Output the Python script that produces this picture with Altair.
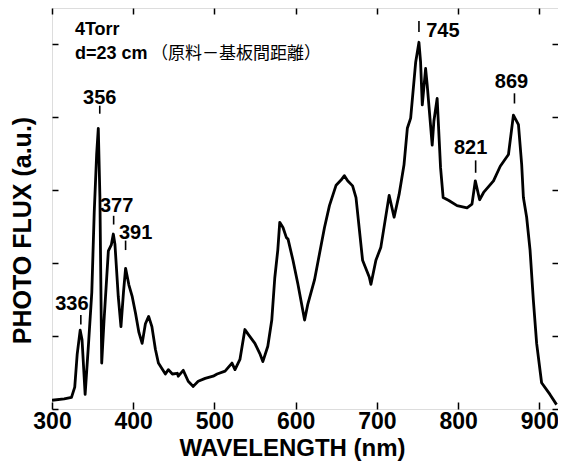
import altair as alt
import pandas as pd

# spectrum (wavelength nm, photo flux a.u.)
wavelength = [300, 315, 324, 328, 331, 334.7, 337, 340.8, 345, 349, 352, 355, 357,
              359, 361.2, 364, 369.4, 373, 375.5, 377.5, 381.6, 384.9, 388, 390.6,
              394.7, 398.8, 402.9, 407, 411, 415, 419, 423, 427.3, 431, 439.6, 443.3,
              448.2, 454.3, 455.5, 461.6, 467.7, 473.9, 480, 488.6, 498.4, 503.3, 513.1,
              521.6, 525.3, 531.4, 537.5, 541.2, 549.8, 555.9, 559.6, 565.7, 570.6,
              574.3, 578, 580.4, 584.4, 588.6, 590.6, 596.7, 602.8, 611, 615, 623.2,
              635.5, 641.6, 649.8, 655.9, 660, 664, 670.1, 674.3, 682.4, 690.6, 692.7,
              698.8, 704.9, 715.1, 721.2, 727.3, 729.4, 733.4, 737.5, 741.6, 747.8,
              751.8, 753.8, 755.9, 760, 762, 768.1, 770.2, 774.2, 778.4, 781.6, 788.6,
              798.7, 811, 817.1, 821.2, 826.5, 831.4, 843.6, 851.9, 862, 868.1, 874.3,
              878.3, 880.4, 884.4, 888.6, 892.6, 896.7, 902.8, 913.1, 921.2]
flux = [0.12, 0.14, 0.16, 0.30, 0.75, 1.08, 0.95, 0.20, 0.90, 1.60, 2.70, 3.50, 3.85,
        2.90, 0.63, 1.20, 2.17, 2.25, 2.40, 2.26, 1.54, 1.13, 1.60, 1.93,
        1.70, 1.54, 1.31, 1.05, 0.90, 1.17, 1.27, 1.13, 0.82, 0.63, 0.48, 0.54,
        0.48, 0.49, 0.45, 0.53, 0.38, 0.31, 0.38, 0.42, 0.45, 0.48, 0.52,
        0.63, 0.54, 0.68, 1.09, 1.03, 0.90, 0.76, 0.65, 0.86, 1.22,
        1.80, 2.18, 2.56, 2.49, 2.35, 2.33, 2.04, 1.71, 1.22, 1.44, 1.77,
        2.49, 2.79, 3.07, 3.14, 3.20, 3.13, 3.06, 2.90, 2.04, 1.81, 1.71,
        2.04, 2.22, 2.93, 2.63, 2.94, 3.08, 3.35, 3.85, 3.99, 4.76,
        5.03, 4.76, 4.17, 4.67, 4.44, 3.62, 3.95, 4.26, 3.31, 2.90, 2.86,
        2.79, 2.76, 2.81, 3.13, 2.87, 2.97, 3.13, 3.33, 3.49, 4.03, 3.90,
        3.35, 2.90, 2.63, 2.18, 1.50, 0.90, 0.36, 0.20, 0.06]

# peak labels
peak_text = ["336", "356", "377", "391", "745", "821", "869"]
label_x = [324.5, 358.8, 379.6, 402.9, 781.2, 815.5, 865.7]
label_y = [1.44, 4.27, 2.78, 2.41, 5.18, 3.58, 4.49]
mark_x = [335.5, 358.8, 375.9, 390.6, 751.8, 821.6, 869.4]
mark_y1 = [1.29, 4.16, 2.65, 2.31, 5.32, 3.41, 4.33]
mark_y2 = [1.16, 4.05, 2.53, 2.18, 5.17, 3.24, 4.19]

# header notes
note_text = ["4Torr", "d=23 cm"]
note_x = [328.2, 328.2]
note_y = [5.20, 4.87]
cjk_text = ["（原料－基板間距離）"]
cjk_x = [422.0]
cjk_y = [4.87]

x_ticks = [300, 400, 500, 600, 700, 800, 900]
y_ticks = [0, 1, 2, 3, 4, 5]

xdom = [300, 923]
ydom = [0, 5.5]

df = pd.DataFrame({"wl": wavelength, "flux": flux})
lab = pd.DataFrame({"t": peak_text, "x": label_x, "y": label_y,
                    "mx": mark_x, "my1": mark_y1, "my2": mark_y2})
notes = pd.DataFrame({"t": note_text, "x": note_x, "y": note_y})
cjk = pd.DataFrame({"t": cjk_text, "x": cjk_x, "y": cjk_y})

xs = alt.Scale(domain=xdom, nice=False, zero=False)
ys = alt.Scale(domain=ydom, nice=False, zero=False)

FONT = "Liberation Sans"

line = alt.Chart(df).mark_line(color="black", strokeWidth=2.8, strokeJoin="round",
                               clip=True).encode(
    x=alt.X("wl:Q", scale=xs, axis=alt.Axis(
        values=x_ticks, orient="bottom", offset=-7, tickSize=7, tickWidth=1.5,
        tickColor="black", domain=False, grid=False, labelFont=FONT,
        labelFontSize=23, labelFontWeight="bold", labelColor="black",
        labelFlush=False, labelPadding=1, title="WAVELENGTH (nm)", titleFont=FONT,
        titleFontSize=24, titleFontWeight="bold", titleColor="black",
        titlePadding=3, titleX=240)),
    y=alt.Y("flux:Q", scale=ys, axis=alt.Axis(
        values=y_ticks, orient="left", offset=-6, tickSize=6, tickWidth=1.5,
        tickColor="black", domain=False, grid=False, labels=False,
        title="PHOTO FLUX (a.u.)", titleFont=FONT, titleFontSize=25,
        titleFontWeight="bold", titleColor="black", titlePadding=16, titleY=222)),
)

frame_axes = alt.Chart(df).mark_line(opacity=0).encode(
    x=alt.X("wl:Q", scale=xs, axis=alt.Axis(
        values=x_ticks, orient="top", offset=-6, tickSize=6, tickWidth=1.5,
        tickColor="black", domain=False, grid=False, labels=False, title=None)),
    y=alt.Y("flux:Q", scale=ys, axis=alt.Axis(
        values=y_ticks, orient="right", offset=-6, tickSize=6, tickWidth=1.5,
        tickColor="black", domain=False, grid=False, labels=False, title=None)),
)

ticks = alt.Chart(lab).mark_rule(color="black", strokeWidth=1.6).encode(
    x=alt.X("mx:Q", scale=xs, axis=None),
    y=alt.Y("my1:Q", scale=ys, axis=None),
    y2="my2:Q",
)

labels = alt.Chart(lab).mark_text(font=FONT, fontSize=20, fontWeight="bold",
                                  color="black", align="center", baseline="middle").encode(
    x=alt.X("x:Q", scale=xs, axis=None),
    y=alt.Y("y:Q", scale=ys, axis=None),
    text="t:N",
)

note = alt.Chart(notes).mark_text(font=FONT, fontSize=18, fontWeight="bold",
                                  color="black", align="left", baseline="middle").encode(
    x=alt.X("x:Q", scale=xs, axis=None),
    y=alt.Y("y:Q", scale=ys, axis=None),
    text="t:N",
)

note_cjk = alt.Chart(cjk).mark_text(font="Noto Sans CJK JP", fontSize=17,
                                    color="black", align="left", baseline="middle").encode(
    x=alt.X("x:Q", scale=xs, axis=None),
    y=alt.Y("y:Q", scale=ys, axis=None),
    text="t:N",
)

chart = alt.layer(line, frame_axes, ticks, labels, note, note_cjk).resolve_axis(
    x="independent", y="independent"
).properties(
    width=506, height=401,
    autosize=alt.AutoSizeParams(type="none"),
    padding={"left": 44, "top": 0, "right": 0, "bottom": 53},
).configure_view(stroke="black", strokeWidth=1.5).configure(background="white")

chart.save("out.html", embed_options={"renderer": "svg", "actions": False})
